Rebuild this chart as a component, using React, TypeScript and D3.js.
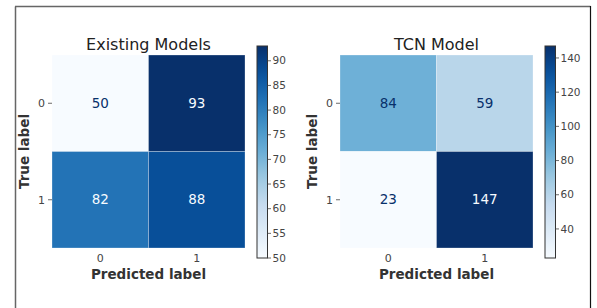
import React from 'react';
import * as d3 from 'd3';

// confusion matrix values
const classLabels = ['0', '1'];
const existingTitle = 'Existing Models';
const existingValues = [
  [50, 93],
  [82, 88],
];
const existingTicks = [50, 55, 60, 65, 70, 75, 80, 85, 90];

const tcnTitle = 'TCN Model';
const tcnValues = [
  [84, 59],
  [23, 147],
];
const tcnTicks = [40, 60, 80, 100, 120, 140];

// matplotlib "Blues" stops
const bluesStops = ['#f7fbff', '#deebf7', '#c6dbef', '#9ecae1', '#6baed6', '#4292c6', '#2171b5', '#08519c', '#08306b'];
const blues = d3
  .scaleLinear<string>()
  .domain(bluesStops.map((_, i) => i / (bluesStops.length - 1)))
  .range(bluesStops)
  .interpolate(d3.interpolateRgb);

const font = 'DejaVu Sans, Verdana, sans-serif';

const Panel = ({ id, x0, title, values, ticks }) => {
  const size = 193;
  const top = 55;
  const flat = values.flat();
  const vmin = d3.min(flat);
  const vmax = d3.max(flat);
  const thresh = (vmin + vmax) / 2;
  const norm = d3.scaleLinear().domain([vmin, vmax]).range([0, 1]);

  const xs = d3.scaleBand().domain(classLabels).range([x0, x0 + size]);
  const ys = d3.scaleBand().domain(classLabels).range([top, top + size]);

  const cbX = x0 + 205;
  const cbW = 10.5;
  const cbTop = 46;
  const cbBottom = 258;
  const cbScale = d3.scaleLinear().domain([vmin, vmax]).range([cbBottom, cbTop]);
  const gradStops = d3.range(0, 1.0001, 0.05);

  return (
    <g>
      <defs>
        <linearGradient id={id} x1="0" y1="1" x2="0" y2="0">
          {gradStops.map((t) => (
            <stop key={t} offset={t} stopColor={blues(t)} />
          ))}
        </linearGradient>
      </defs>
      <text x={x0 + size / 2} y={50} textAnchor="middle" fontSize={16} fill="#222">
        {title}
      </text>
      {values.map((row, i) =>
        row.map((v, j) => (
          <g key={`${i}-${j}`}>
            <rect
              x={xs(classLabels[j])}
              y={ys(classLabels[i])}
              width={xs.bandwidth()}
              height={ys.bandwidth()}
              fill={blues(norm(v))}
              stroke="#ffffff"
              strokeOpacity={0.35}
              strokeWidth={0.8}
            />
            <text
              x={xs(classLabels[j]) + xs.bandwidth() / 2}
              y={ys(classLabels[i]) + ys.bandwidth() / 2}
              dy="0.35em"
              textAnchor="middle"
              fontSize={13.5}
              fill={v < thresh ? blues(1) : blues(0)}
            >
              {v}
            </text>
          </g>
        ))
      )}
      {classLabels.map((c) => (
        <g key={`y${c}`}>
          <line x1={x0 - 4} x2={x0} y1={ys(c) + ys.bandwidth() / 2} y2={ys(c) + ys.bandwidth() / 2} stroke="#444" strokeWidth={0.8} />
          <text x={x0 - 7} y={ys(c) + ys.bandwidth() / 2} dy="0.35em" textAnchor="end" fontSize={11} fill="#444">
            {c}
          </text>
        </g>
      ))}
      {classLabels.map((c) => (
        <g key={`x${c}`}>
          <text x={xs(c) + xs.bandwidth() / 2} y={262} textAnchor="middle" fontSize={11} fill="#444">
            {c}
          </text>
        </g>
      ))}
      <text x={x0 + size / 2} y={279} textAnchor="middle" fontSize={13.5} fontWeight="bold" fill="#333">
        Predicted label
      </text>
      <text
        transform={`translate(${x0 - 23.5},${top + size / 2}) rotate(-90)`}
        textAnchor="middle"
        fontSize={13.5}
        fontWeight="bold"
        fill="#333"
      >
        True label
      </text>
      <rect x={cbX} y={cbTop} width={cbW} height={cbBottom - cbTop} fill={`url(#${id})`} stroke="#333" strokeWidth={1} />
      {ticks.map((t) => (
        <g key={t}>
          <line x1={cbX + cbW} x2={cbX + cbW + 3.5} y1={cbScale(t)} y2={cbScale(t)} stroke="#444" strokeWidth={0.8} />
          <text x={cbX + cbW + 5} y={cbScale(t)} dy="0.35em" fontSize={10.5} fill="#444">
            {t}
          </text>
        </g>
      ))}
    </g>
  );
};

const App = () => {
  return (
    <svg
      width={597}
      height={308}
      style={{ position: 'absolute', left: 0, top: 0, fontFamily: font }}
      fontFamily={font}
    >
      <rect width={597} height={308} fill="#ffffff" />
      <line x1={15.5} y1={6.5} x2={15.5} y2={308} stroke="#666" strokeWidth={1.5} />
      <line x1={15} y1={6.5} x2={590.5} y2={6.5} stroke="#666" strokeWidth={1.5} />
      <line x1={590.5} y1={6} x2={590.5} y2={308} stroke="#111" strokeWidth={1.2} />
      <Panel id="cbA" x0={52} title={existingTitle} values={existingValues} ticks={existingTicks} />
      <Panel id="cbB" x0={340} title={tcnTitle} values={tcnValues} ticks={tcnTicks} />
    </svg>
  );
};

export default App;
